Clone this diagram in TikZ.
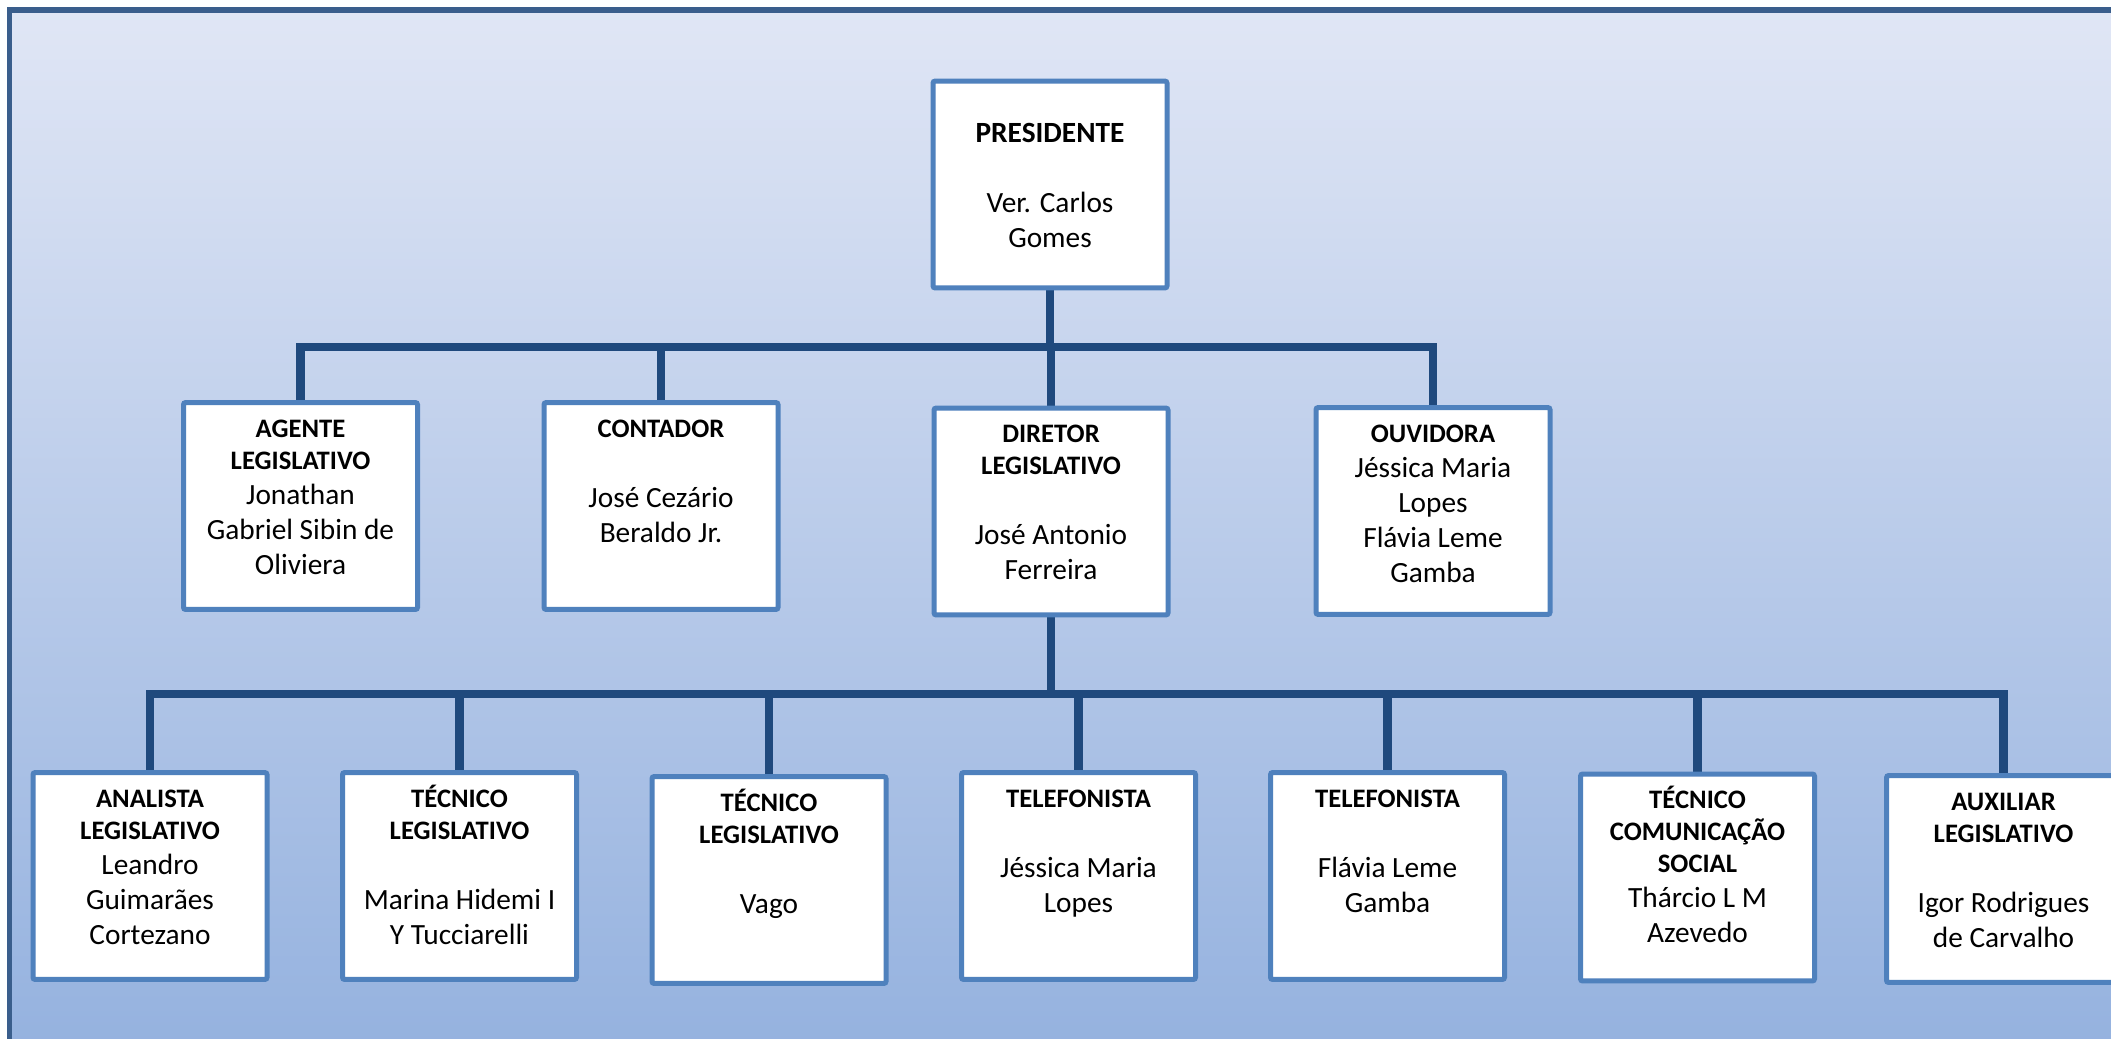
\documentclass[tikz,border=0pt]{standalone}
\usepackage{fontspec}
\setmainfont{Carlito}
\definecolor{boxblue}{HTML}{4F81BD}
\definecolor{connblue}{HTML}{1F497D}
\definecolor{framecol}{HTML}{3A5E8C}
\definecolor{bgtop}{HTML}{E0E6F5}
\definecolor{bgbot}{HTML}{95B2DF}
\newcommand\titf{\fontsize{10}{12}\bfseries\selectfont}
\newcommand\bigtitf{\fontsize{11}{13.125}\bfseries\selectfont}
\newcommand\namef{\normalfont\fontsize{11}{13.125}\selectfont}
\newcommand\gapline{\vspace{13.125pt}}
\newcommand\orgtext[2][12.94pt]{\parbox[c][77.6pt][t]{87.75pt}{\centering\rule{0pt}{#1}#2\par}}
\pgfdeclarelayer{bg}
\pgfdeclarelayer{lines}
\pgfsetlayers{bg,lines,main}
\tikzset{
  orgbox/.style={draw=boxblue, line width=1.875pt, fill=white, inner sep=0pt, outer sep=0pt, rounded corners=0.8pt},
  conn/.style={draw=connblue, line width=3.2pt},
}
\begin{document}
\begin{tikzpicture}[x=0.375pt,y=-0.375pt]
\useasboundingbox (0,0) rectangle (2111,1039);
\clip (0,0) rectangle (2111,1039);
% level 1
\node[orgbox] (pres) at (1050,184.5) {\orgtext[23.1pt]{\bigtitf PRESIDENTE\par\gapline\namef Ver. Carlos\par Gomes}};
% level 2
\node[orgbox] (agente) at (300.5,506) {\orgtext{\titf AGENTE\par LEGISLATIVO\par\namef Jonathan\par Gabriel Sibin de\par Oliviera}};
\node[orgbox] (contador) at (661,506) {\orgtext{\titf CONTADOR\par\gapline\namef José Cezário\par Beraldo Jr.}};
\node[orgbox] (diretor) at (1051,511.5) {\orgtext{\titf DIRETOR\par LEGISLATIVO\par\gapline\namef José Antonio\par Ferreira}};
\node[orgbox] (ouvidora) at (1433,511) {\orgtext{\titf OUVIDORA\par\namef Jéssica Maria\par Lopes\par Flávia Leme\par Gamba}};
% level 3
\node[orgbox] (analista) at (150,876) {\orgtext{\titf ANALISTA\par LEGISLATIVO\par\namef Leandro\par Guimarães\par Cortezano}};
\node[orgbox] (tecA) at (459.5,876) {\orgtext{\titf TÉCNICO\par LEGISLATIVO\par\gapline\namef Marina Hidemi I\par Y Tucciarelli}};
\node[orgbox] (tecB) at (769,880) {\orgtext{\titf TÉCNICO\par LEGISLATIVO\par\gapline\namef Vago}};
\node[orgbox] (telA) at (1078.5,876) {\orgtext{\titf TELEFONISTA\par\gapline\namef Jéssica Maria\par Lopes}};
\node[orgbox] (telB) at (1387.5,876) {\orgtext{\titf TELEFONISTA\par\gapline\namef Flávia Leme\par Gamba}};
\node[orgbox] (teccom) at (1697.5,877.5) {\orgtext{\titf TÉCNICO\par COMUNICAÇÃO\par SOCIAL\par\namef Thárcio L M\par Azevedo}};
\node[orgbox] (aux) at (2003.5,879) {\orgtext{\titf AUXILIAR\par LEGISLATIVO\par\gapline\namef Igor Rodrigues\par de Carvalho}};
\coordinate (busA) at (0,347);
\coordinate (busB) at (0,694);
\begin{pgfonlayer}{bg}
  \clip (0,0) rectangle (2111,1039);
  \fill[white] (0,0) rectangle (2111,1039);
  \draw[draw=framecol, line width=1.9pt, top color=bgtop, bottom color=bgbot] (9.5,10) rectangle (2140,1045);
\end{pgfonlayer}
\begin{pgfonlayer}{lines}
  \clip (0,0) rectangle (2111,1039);
  \foreach \c in {agente,contador,diretor,ouvidora}
    \draw[conn] (pres.south) -- (pres.south |- busA) -| (\c.north);
  \foreach \c in {analista,tecA,tecB,telA,telB,teccom,aux}
    \draw[conn] (diretor.south) -- (diretor.south |- busB) -| (\c.north);
\end{pgfonlayer}
\end{tikzpicture}
\end{document}
